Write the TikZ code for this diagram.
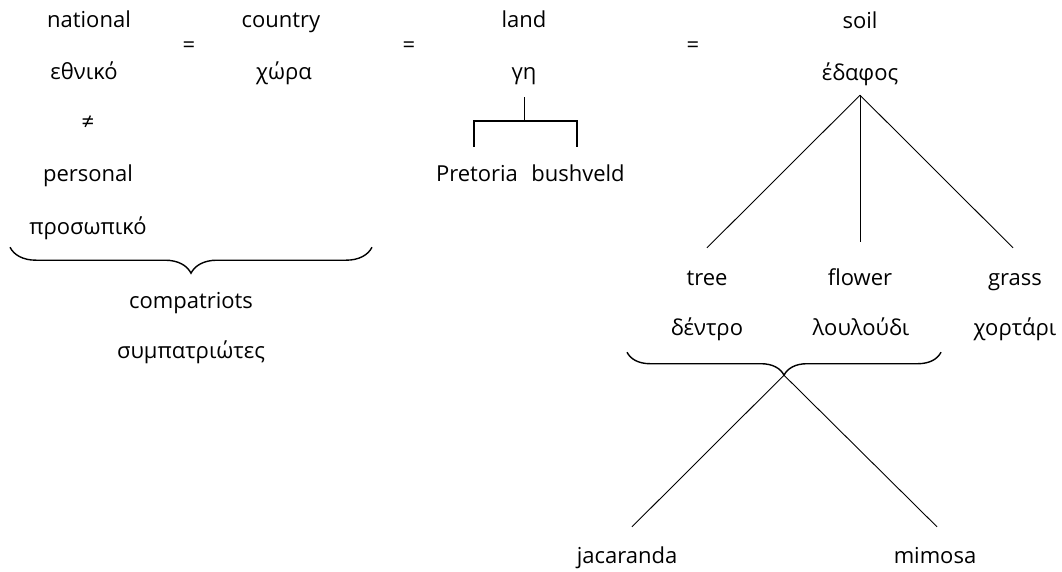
\documentclass[tikz,border=0pt]{standalone}
\usepackage{fontspec}
\setmainfont{Open Sans}
\usetikzlibrary{calc,decorations.pathreplacing}

\begin{document}
\begin{tikzpicture}[x=1pt,y=-1pt,
    word/.style={anchor=base,inner sep=0pt,text height=16pt,text depth=5pt,
                 font=\fontsize{22}{26}\selectfont},
    sign/.style={inner sep=0pt,font=\fontsize{22}{26}\selectfont},
    branch/.style={line width=0.9pt},
    bracket/.style={line width=1.6pt},
    bracebelow/.style={line width=1.4pt,decorate,
                       decoration={brace,mirror,amplitude=#1}}]
\useasboundingbox (0,0) rectangle (1062,572);

% first column
\node[word] (national)  at (89,28)  {national};
\node[word] (ethniko)   at (84,80)  {εθνικό};
\node[sign] (neq)       at (88,123) {≠};
\node[word] (personal)  at (88,182) {personal};
\node[word] (prosopiko) at (88,234) {προσωπικό};
\node[word] (compat)    at (191,308) {compatriots};
\node[word] (sympatr)   at (191,358) {συμπατριώτες};

% equals signs along the top row
\node[sign] (eq1) at (189,47) {=};
\node[sign] (eq2) at (409,47) {=};
\node[sign] (eq3) at (693,47) {=};

% country
\node[word] (country) at (281,28) {country};
\node[word] (chora)   at (284,80) {χώρα};

% land
\node[word] (land)     at (524,28)  {land};
\node[word] (gi)       at (524,80)  {γη};
\node[word] (pretoria) at (477,182) {Pretoria};
\node[word] (bushveld) at (578,182) {bushveld};

% soil
\node[word] (soil)     at (860,29)  {soil};
\node[word] (edafos)   at (860,81)  {έδαφος};
\node[word] (tree)     at (707,285) {tree};
\node[word] (flower)   at (860,285) {flower};
\node[word] (grass)    at (1015,285) {grass};
\node[word] (dentro)   at (707,335) {δέντρο};
\node[word] (louloudi) at (861,335) {λουλούδι};
\node[word] (chortari) at (1015,335) {χορτάρι};
\node[word] (jacaranda) at (627,563) {jacaranda};
\node[word] (mimosa)    at (935,563) {mimosa};

% brace gathering national and country
\draw[bracebelow=26] ($(prosopiko.south)+(-78,8)$) -- ($(prosopiko.south)+(284,8)$);

% bracket under land
\draw[branch] ($(gi.south)+(0,12)$) -- ($(gi.south)+(0,36)$);
\draw[bracket] ($(pretoria.north)+(-3,-19)$) -- ++(0,-26)
               -| ($(bushveld.north)+(-1,-19)$);

% branches of soil
\coordinate (apex) at ($(edafos.south)+(0,9)$);
\draw[branch] (apex) -- ($(tree.north)+(0,-21)$);
\draw[branch] (apex) -- ($(flower.north)+(0,-27)$);
\draw[branch] (apex) -- ($(grass.north)+(-2,-21)$);

% brace gathering tree and flower
\coordinate (bl) at ($(dentro.south)+(-80,12)$);
\coordinate (br) at ($(louloudi.south)+(80,12)$);
\draw[bracebelow=23] (bl) -- (br);
\coordinate (tip) at ($(bl)!0.5!(br)+(0,23)$);
\draw[branch] (tip) -- ($(jacaranda.north)+(5,-20)$);
\draw[branch] (tip) -- ($(mimosa.north)+(2,-20)$);
\end{tikzpicture}
\end{document}
